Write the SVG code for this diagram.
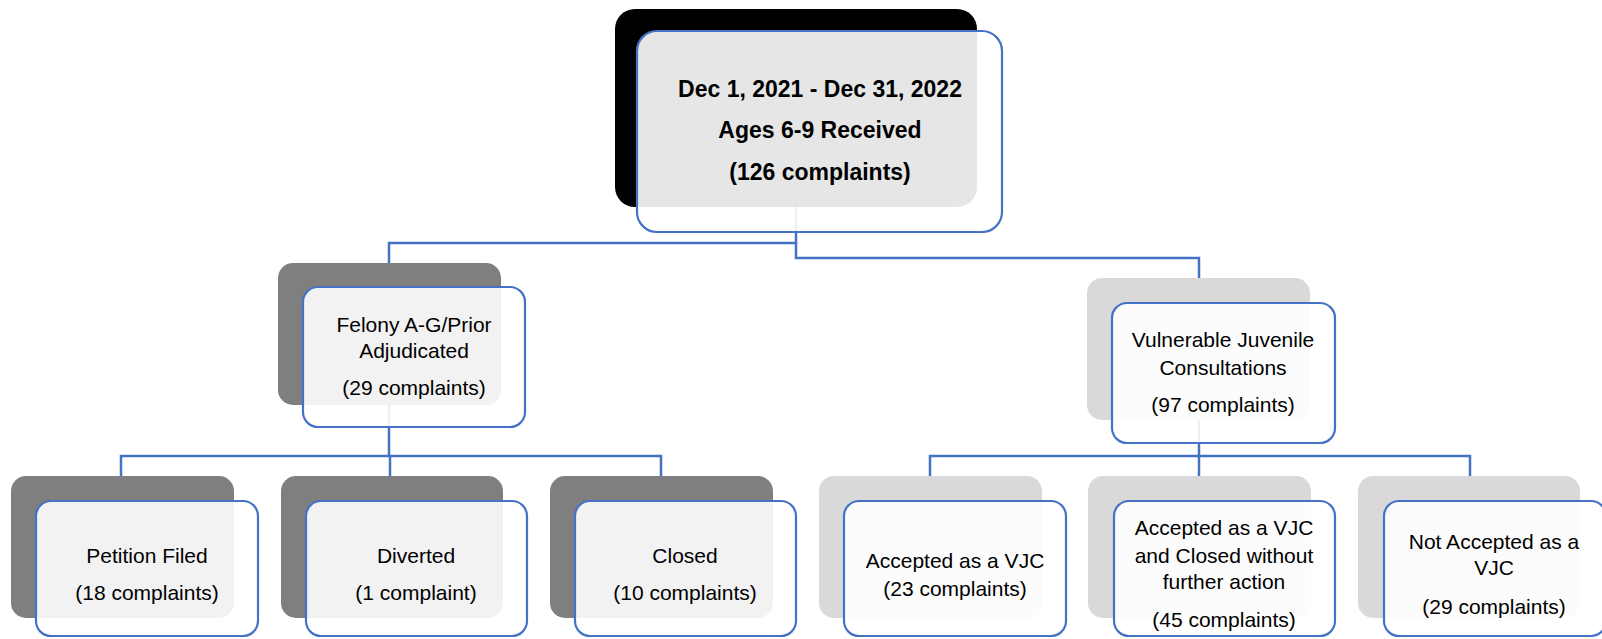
<svg xmlns="http://www.w3.org/2000/svg" width="1602" height="639" viewBox="0 0 1602 639">
<style>
.bk{fill:#000000}
.dg{fill:#7F7F7F}
.lg{fill:#D9D9D9}
.fr{fill:#FFFFFF;fill-opacity:0.9;stroke:#4472C4;stroke-width:2.2}
.t{font-family:"Liberation Sans",Arial,sans-serif;font-size:21px;fill:#000;text-anchor:middle}
.tb{font-family:"Liberation Sans",Arial,sans-serif;font-size:23px;font-weight:bold;fill:#000;text-anchor:middle}
.cn{fill:none;stroke:#4472C4;stroke-width:2.5}
</style>
<rect width="1602" height="639" fill="#FFFFFF"/>
<g id="connectors" class="cn">
<path d="M796,207 V258 H1199 V278"/>
<path d="M389,263 V243 H796"/>
<path d="M389,405 V456"/>
<path d="M121,476 V456 H661 V476"/>
<path d="M390,456 V476"/>
<path d="M1199,420 V456"/>
<path d="M930,476 V456 H1470 V476"/>
<path d="M1199,456 V476"/>
</g>
<g id="node-root">
<rect class="bk" x="615" y="9" width="362" height="198" rx="20"/>
<rect class="fr" x="637" y="31" width="365" height="201" rx="20"/>
<text class="tb" x="820" y="97">Dec 1, 2021 - Dec 31, 2022</text>
<text class="tb" x="820" y="138">Ages 6-9 Received</text>
<text class="tb" x="820" y="180">(126 complaints)</text>
</g>
<g id="node-felony">
<rect class="dg" x="278" y="263" width="223" height="142" rx="15"/>
<rect class="fr" x="303" y="287" width="222" height="140" rx="15"/>
<text class="t" x="414" y="332">Felony A-G/Prior</text>
<text class="t" x="414" y="358">Adjudicated</text>
<text class="t" x="414" y="395">(29 complaints)</text>
</g>
<g id="node-vjc">
<rect class="lg" x="1087" y="278" width="223" height="142" rx="15"/>
<rect class="fr" x="1112" y="303" width="223" height="140" rx="15"/>
<text class="t" x="1223" y="347">Vulnerable Juvenile</text>
<text class="t" x="1223" y="375">Consultations</text>
<text class="t" x="1223" y="412">(97 complaints)</text>
</g>
<g id="node-petition">
<rect class="dg" x="11" y="476" width="223" height="142" rx="15"/>
<rect class="fr" x="36" y="501" width="222" height="135" rx="15"/>
<text class="t" x="147" y="563">Petition Filed</text>
<text class="t" x="147" y="600">(18 complaints)</text>
</g>
<g id="node-diverted">
<rect class="dg" x="281" y="476" width="222" height="142" rx="15"/>
<rect class="fr" x="306" y="501" width="221" height="135" rx="15"/>
<text class="t" x="416" y="563">Diverted</text>
<text class="t" x="416" y="600">(1 complaint)</text>
</g>
<g id="node-closed">
<rect class="dg" x="550" y="476" width="223" height="142" rx="15"/>
<rect class="fr" x="575" y="501" width="221" height="135" rx="15"/>
<text class="t" x="685" y="563">Closed</text>
<text class="t" x="685" y="600">(10 complaints)</text>
</g>
<g id="node-accepted">
<rect class="lg" x="819" y="476" width="223" height="142" rx="15"/>
<rect class="fr" x="844" y="501" width="222" height="135" rx="15"/>
<text class="t" x="955" y="568">Accepted as a VJC</text>
<text class="t" x="955" y="596">(23 complaints)</text>
</g>
<g id="node-accepted-closed">
<rect class="lg" x="1088" y="476" width="223" height="142" rx="15"/>
<rect class="fr" x="1114" y="501" width="221" height="135" rx="15"/>
<text class="t" x="1224" y="535">Accepted as a VJC</text>
<text class="t" x="1224" y="563">and Closed without</text>
<text class="t" x="1224" y="589">further action</text>
<text class="t" x="1224" y="627">(45 complaints)</text>
</g>
<g id="node-not-accepted">
<rect class="lg" x="1358" y="476" width="222" height="142" rx="15"/>
<rect class="fr" x="1384" y="501" width="222" height="135" rx="15"/>
<text class="t" x="1494" y="549">Not Accepted as a</text>
<text class="t" x="1494" y="575">VJC</text>
<text class="t" x="1494" y="614">(29 complaints)</text>
</g>
</svg>
